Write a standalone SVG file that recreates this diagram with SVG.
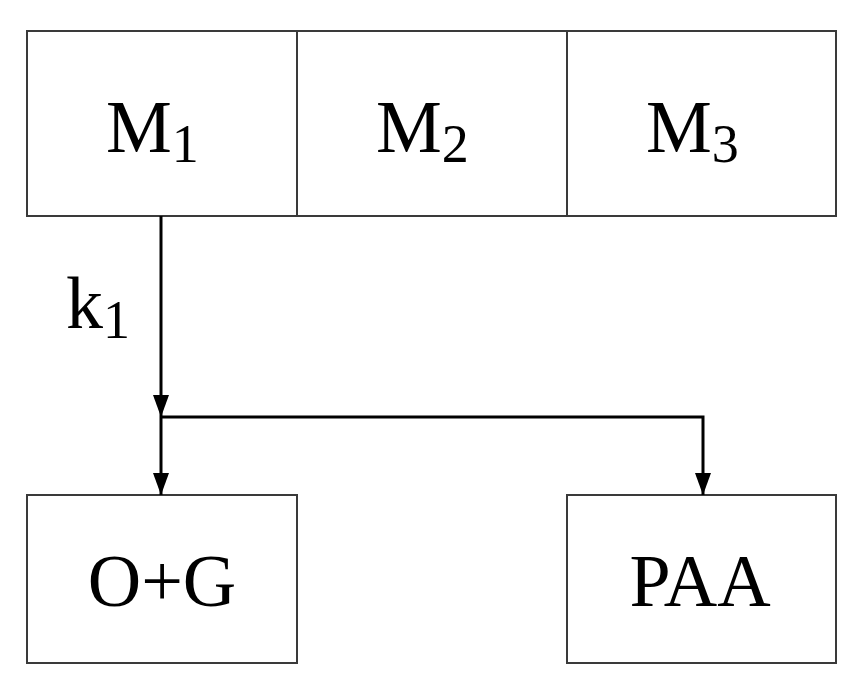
<svg xmlns="http://www.w3.org/2000/svg" width="866" height="692" viewBox="0 0 866 692">
<style>
.b{fill:#fff;stroke:#3a3a3a;stroke-width:2}
.t{font-family:"Liberation Serif",serif;font-size:74px;fill:#000}
.s{font-size:54px}
.c{fill:none;stroke:#000;stroke-width:3}
</style>
<defs><marker id="a" markerWidth="22" markerHeight="18" refX="22" refY="9" orient="auto" markerUnits="userSpaceOnUse" viewBox="0 0 22 18"><path d="M0,1 L22,9 L0,17 Z" fill="#000"/></marker></defs>
<rect width="866" height="692" fill="#fff"/>
<g id="M1"><rect class="b" x="27" y="31" width="270" height="185"/><text class="t" x="106" y="152">M<tspan class="s" dy="10">1</tspan></text></g>
<g id="M2"><rect class="b" x="297" y="31" width="270" height="185"/><text class="t" x="376" y="152">M<tspan class="s" dy="10">2</tspan></text></g>
<g id="M3"><rect class="b" x="567" y="31" width="269" height="185"/><text class="t" x="646" y="152">M<tspan class="s" dy="10">3</tspan></text></g>
<g id="OG"><rect class="b" x="27" y="495" width="270" height="168"/><text class="t" x="162" y="606" text-anchor="middle">O+G</text></g>
<g id="PAA"><rect class="b" x="567" y="495" width="269" height="168"/><text class="t" x="700" y="606" text-anchor="middle">PAA</text></g>
<g id="connectors">
<path class="c" d="M161,216 V417" marker-end="url(#a)"/>
<path class="c" d="M161,417 V495" marker-end="url(#a)"/>
<path class="c" d="M161,417 H703 V495" marker-end="url(#a)"/>
<text class="t" x="66" y="328">k<tspan class="s" dy="10">1</tspan></text>
</g>
</svg>
